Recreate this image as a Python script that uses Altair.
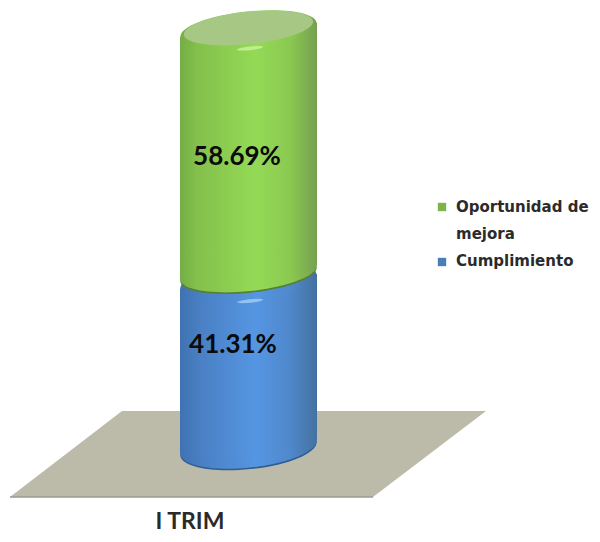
import altair as alt
import pandas as pd

# ---- chart values ----
categories = ["I TRIM"]
series_names = ["Cumplimiento", "Oportunidad de mejora"]
series_values = [41.31, 58.69]
value_labels = ["41.31%", "58.69%"]
legend_lines = ["Oportunidad de", "mejora", "Cumplimiento"]

# ---- frame: x in image pixels, y in value units ----
W, H = 584, 526
PX_PER_UNIT = 4.17
BASE_PX = 447


def val(px):
    return (BASE_PX - px) / PX_PER_UNIT


XS = alt.Scale(domain=[8, 8 + W], nice=False, zero=False)
YS = alt.Scale(domain=[val(8 + H), val(8)], nice=False, zero=False)
X = lambda f="x": alt.X(f"{f}:Q", scale=XS, axis=None)
Y = lambda f="y": alt.Y(f"{f}:Q", scale=YS, axis=None)

LEFT, RIGHT, CX, R = 180, 317, 248.5, 68.5
TILT = 1.75
ANGLE = 354


def grad(stops, x2=1, y2=0):
    return alt.Gradient(
        gradient="linear", x1=0, y1=0, x2=x2, y2=y2,
        stops=[alt.GradientStop(offset=o, color=c) for o, c in stops],
    )


GREEN_SIDE = grad([(0, "#74AE45"), (0.12, "#83C04C"), (0.55, "#94DA56"), (0.8, "#8BC951"), (1, "#76A050")])
BLUE_SIDE = grad([(0, "#3F72B2"), (0.15, "#4A80C4"), (0.55, "#5596E2"), (0.8, "#5088CC"), (1, "#44719F")])
GREEN_RIM = "#55802F"
BLUE_RIM = "#2F5C96"

ELLIPSE = "M -1 0 A 1 {m} 0 1 1 1 0 A 1 {m} 0 1 1 -1 0 Z"


def ellipse(y, fill, radius=R, minor=0.27, x=CX, opacity=1):
    return (
        alt.Chart(pd.DataFrame({"x": [x], "y": [y]}))
        .mark_point(
            shape=ELLIPSE.format(m=minor), filled=True, fill=fill, stroke=None,
            size=4 * radius * radius, angle=ANGLE, opacity=opacity,
        )
        .encode(x=X(), y=Y())
    )


def side(low, high, fill):
    df = pd.DataFrame({
        "x": [LEFT, RIGHT],
        "y": [high - TILT, high + TILT],
        "y2": [low - TILT, low + TILT],
    })
    return (
        alt.Chart(df)
        .mark_area(fill=fill, orient="vertical", opacity=1)
        .encode(x=X(), y=Y(), y2=alt.Y2("y2:Q"))
    )


blue_v, green_v = series_values
top_v = blue_v + green_v

floor_df = pd.DataFrame({
    "y": [val(411), val(497)],
    "x": [122, 10],
    "x2": [486, 373],
})
floor = (
    alt.Chart(floor_df)
    .mark_area(fill="#BCBBA9", orient="horizontal", opacity=1)
    .encode(x=X(), x2=alt.X2("x2:Q"), y=Y())
)
floor_edge = (
    alt.Chart(pd.DataFrame({"x": [10], "x2": [373], "y": [val(497)]}))
    .mark_rule(color="#9A9A90", strokeWidth=1.5)
    .encode(x=X(), x2=alt.X2("x2:Q"), y=Y())
)

layers = [
    floor, floor_edge,
    # blue cylinder
    ellipse(-0.4, BLUE_RIM, minor=0.3),
    ellipse(0, BLUE_SIDE, minor=0.3),
    side(0, blue_v - 1.6, BLUE_SIDE),
    ellipse(blue_v - 1.6, BLUE_SIDE),
    ellipse(blue_v - 6.3, "#9CCBF7", radius=13, minor=0.14, x=250, opacity=0.85),
    # green cylinder
    ellipse(blue_v + 0.1, GREEN_RIM, minor=0.27),
    ellipse(blue_v + 0.5, GREEN_SIDE, minor=0.27),
    side(blue_v + 0.5, top_v, GREEN_SIDE),
    ellipse(top_v, GREEN_SIDE),
    ellipse(top_v + 0.5, "#A7C785", radius=65, minor=0.25),
    ellipse(top_v - 4.4, "#C8F296", radius=13, minor=0.14, x=250, opacity=0.85),
]

# value labels
labels_df = pd.DataFrame({
    "x": [233, 237],
    "y": [blue_v / 2, blue_v + green_v / 2],
    "label": value_labels,
})
for i, dy in enumerate([-16, 5]):
    layers.append(
        alt.Chart(labels_df.iloc[[i]])
        .mark_text(font="Lato", fontWeight="bold", fontSize=26, color="#0B0B0B", dy=dy)
        .encode(x=X(), y=Y(), text="label:N")
    )

# category label
layers.append(
    alt.Chart(pd.DataFrame({"x": [190], "y": [val(522)], "label": categories}))
    .mark_text(font="Lato", fontWeight="bold", fontSize=23, color="#2A2A2A")
    .encode(x=X(), y=Y(), text="label:N")
)

# legend
legend_df = pd.DataFrame({
    "x": [456, 456, 456],
    "y": [val(207), val(234), val(261)],
    "label": legend_lines,
})
layers.append(
    alt.Chart(legend_df)
    .mark_text(font="DejaVu Sans", fontWeight="bold", fontSize=15, align="left", color="#2B2B2B")
    .encode(x=X(), y=Y(), text="label:N")
)
swatch_df = pd.DataFrame({
    "x": [442, 442], "y": [val(207), val(262)], "color": ["#7DB44A", "#4A7EBB"],
})
layers.append(
    alt.Chart(swatch_df)
    .mark_square(size=70, opacity=1)
    .encode(x=X(), y=Y(), color=alt.Color("color:N", scale=None))
)

chart = (
    alt.layer(*layers)
    .properties(width=W, height=H, padding=0, autosize=alt.AutoSizeParams(type="none"), background="white")
    .configure_view(stroke=None)
)
chart.save("out.html", embed_options={"renderer": "svg", "actions": False})
